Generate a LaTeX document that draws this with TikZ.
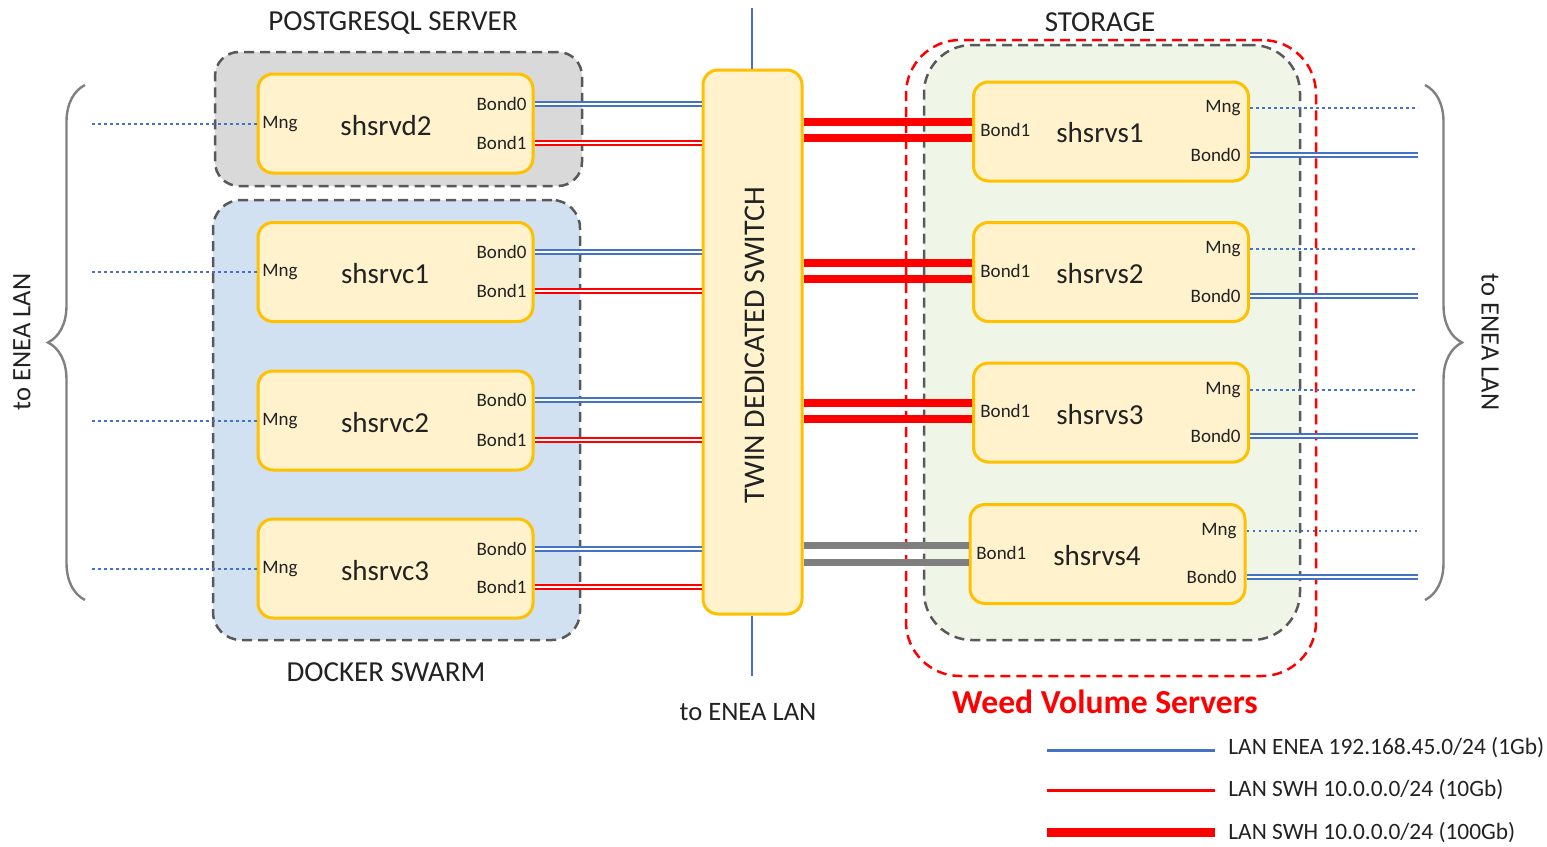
\documentclass[tikz,border=0pt]{standalone}
\usepackage{fontspec}
\setmainfont{Carlito}
\usetikzlibrary{decorations.pathreplacing,calc}
\definecolor{lanblue}{HTML}{4472C4}
\definecolor{swred}{HTML}{FF0000}
\definecolor{boxedge}{HTML}{FFC000}
\definecolor{boxfill}{HTML}{FFF2CC}
\definecolor{grpgray}{HTML}{595959}
\definecolor{pgfill}{HTML}{D9D9D9}
\definecolor{dkfill}{HTML}{D2E1F1}
\definecolor{stfill}{HTML}{EFF6E8}
\definecolor{txt}{HTML}{222222}
\definecolor{linkgray}{HTML}{7F7F7F}
\definecolor{bracegray}{HTML}{808080}
\begin{document}
\begin{tikzpicture}[x=0.5pt,y=-0.5pt,
  server/.style={draw=boxedge, fill=boxfill, line width=1.5pt, rounded corners=7.5pt,
    minimum width=137.5pt, minimum height=49.5pt, inner sep=0pt},
  grp/.style={draw=grpgray, line width=1.25pt, dash pattern=on 5pt off 3pt, inner sep=0pt},
  sname/.style={font=\fontsize{14.5}{17}\selectfont, text=txt, inner sep=0pt},
  port/.style={font=\fontsize{9.5}{11}\selectfont, text=txt, inner sep=0pt},
  ttl/.style={font=\fontsize{14.5}{17}\selectfont, text=txt, inner sep=0pt},
  lantxt/.style={font=\fontsize{13.3}{16}\selectfont, text=txt, inner sep=0pt},
  legtxt/.style={font=\fontsize{11.7}{14}\selectfont, text=txt, inner sep=0pt, anchor=west},
  bondA/.style={draw=lanblue, double=white, line width=0.95pt, double distance=1.1pt},
  bondB/.style={draw=swred, double=white, line width=0.95pt, double distance=1.1pt},
  fat/.style={draw=swred, line width=4pt},
  fatgray/.style={draw=linkgray, line width=3.5pt},
  mng/.style={draw=lanblue, line width=1.4pt, dash pattern=on 1.3pt off 1.7pt},
  lanline/.style={draw=lanblue, line width=1pt},
  bracestyle/.style={draw=bracegray, line width=1.2pt, decorate, decoration={brace, amplitude=18.5pt}}
]
\useasboundingbox (0,0) rectangle (1547,846);

% groups
\node[grp, fill=pgfill, rounded corners=12pt, minimum width=183.5pt, minimum height=67pt] (pg) at (398.5,119) {};
\node[grp, fill=dkfill, rounded corners=14pt, minimum width=183.5pt, minimum height=220pt] (dk) at (396.5,420) {};
\node[grp, draw=swred, rounded corners=27pt, minimum width=205pt, minimum height=318pt] (wv) at (1111,358) {};
\node[grp, fill=stfill, rounded corners=24pt, minimum width=188pt, minimum height=297.5pt] (st) at (1112,342.5) {};

% titles
\node[ttl] (pgt) at (393,23) {POSTGRESQL SERVER};
\node[ttl] (dkt) at (386,672) {DOCKER SWARM};
\node[ttl] (stt) at (1100,22) {STORAGE};
\node[font=\fontsize{16.8}{19}\selectfont\bfseries, text=swred, inner sep=0pt] (wvt) at (1105,702) {Weed Volume Servers};
\node[lantxt] (lanb) at (748,712) {to ENEA LAN};
\node[lantxt, rotate=90] (lanl) at (22,342) {to ENEA LAN};
\node[lantxt, rotate=-90] (lanr) at (1490,342) {to ENEA LAN};

% switch
\coordinate (lantop) at (752,8);
\coordinate (lanbot) at (752,676);
\node[server, minimum width=49.5pt, minimum height=272pt] (sw) at (752.5,342) {};
\node[font=\fontsize{15}{18}\selectfont, text=txt, inner sep=0pt, rotate=90] (swt) at (755,345) {TWIN DEDICATED SWITCH};
\draw[lanline] (lantop) -- (lantop |- sw.north);
\draw[lanline] (lanbot |- sw.south) -- (lanbot);

% left end / right end
\coordinate (lend) at (90,0);
\coordinate (rend) at (1418,0);

% left servers
\node[server] (d2) at (395.5,123.5) {};
\node[sname] (d2n) at (386,126) {shsrvd2};
\node[port, anchor=west] (d2m) at (262,124) {Mng};
\node[port, anchor=east] (d2b0) at (527,104) {Bond0};
\node[port, anchor=east] (d2b1) at (527,143) {Bond1};

\node[server] (c1) at (395.5,272) {};
\node[sname] (c1n) at (385,274) {shsrvc1};
\node[port, anchor=west] (c1m) at (262,272) {Mng};
\node[port, anchor=east] (c1b0) at (527,252) {Bond0};
\node[port, anchor=east] (c1b1) at (527,291) {Bond1};

\node[server] (c2) at (395.5,420.5) {};
\node[sname] (c2n) at (385,423) {shsrvc2};
\node[port, anchor=west] (c2m) at (262,421) {Mng};
\node[port, anchor=east] (c2b0) at (527,400) {Bond0};
\node[port, anchor=east] (c2b1) at (527,440) {Bond1};

\node[server] (c3) at (395.5,568.5) {};
\node[sname] (c3n) at (385,571) {shsrvc3};
\node[port, anchor=west] (c3m) at (262,569) {Mng};
\node[port, anchor=east] (c3b0) at (527,549) {Bond0};
\node[port, anchor=east] (c3b1) at (527,587) {Bond1};

\foreach \s in {d2,c1,c2,c3}{
  \draw[mng] (\s.west |- \s m) -- (lend |- \s m);
  \draw[bondA] (\s.east |- \s b0) -- (sw.west |- \s b0);
  \draw[bondB] (\s.east |- \s b1) -- (sw.west |- \s b1);
}

% storage servers
\node[server] (s1) at (1111,131.5) {};
\node[sname] (s1n) at (1100,133) {shsrvs1};
\node[port, anchor=east] (s1m) at (1241,108) {Mng};
\node[port, anchor=east] (s1b0) at (1241,155) {Bond0};
\node[port, anchor=west] (s1b1) at (980,130) {Bond1};

\node[server] (s2) at (1111,272) {};
\node[sname] (s2n) at (1100,274) {shsrvs2};
\node[port, anchor=east] (s2m) at (1241,249) {Mng};
\node[port, anchor=east] (s2b0) at (1241,296) {Bond0};
\node[port, anchor=west] (s2b1) at (980,271) {Bond1};

\node[server] (s3) at (1111,412.5) {};
\node[sname] (s3n) at (1100,415) {shsrvs3};
\node[port, anchor=east] (s3m) at (1241,390) {Mng};
\node[port, anchor=east] (s3b0) at (1241,436) {Bond0};
\node[port, anchor=west] (s3b1) at (980,411) {Bond1};

\node[server] (s4) at (1107.5,554) {};
\node[sname] (s4n) at (1097,556) {shsrvs4};
\node[port, anchor=east] (s4m) at (1237,531) {Mng};
\node[port, anchor=east] (s4b0) at (1237,577) {Bond0};
\node[port, anchor=west] (s4b1) at (976,553) {Bond1};

\foreach \s in {s1,s2,s3,s4}{
  \draw[mng] (\s.east |- \s m) -- (rend |- \s m);
  \draw[bondA] (\s.east |- \s b0) -- (rend |- \s b0);
}
\foreach \s in {s1,s2,s3}{
  \draw[fat] ($(sw.east |- \s b1)+(0,-8)$) -- ($(\s.west |- \s b1)+(0,-8)$);
  \draw[fat] ($(sw.east |- \s b1)+(0,8)$) -- ($(\s.west |- \s b1)+(0,8)$);
}
\draw[fatgray] ($(sw.east |- s4b1)+(0,-8)$) -- ($(s4.west |- s4b1)+(0,-8)$);
\draw[fatgray] ($(sw.east |- s4b1)+(0,9)$) -- ($(s4.west |- s4b1)+(0,9)$);

% braces
\coordinate (lbt) at (85,85);
\coordinate (lbb) at (85,600);
\coordinate (rbt) at (1425,85);
\coordinate (rbb) at (1425,600);
\draw[bracestyle] (lbb) -- (lbt);
\draw[bracestyle] (rbt) -- (rbb);

% legend
\coordinate (lg1a) at (1047,750); \coordinate (lg1b) at (1215,750);
\coordinate (lg2a) at (1047,790); \coordinate (lg2b) at (1215,790);
\coordinate (lg3a) at (1047,832); \coordinate (lg3b) at (1215,832);
\draw[draw=lanblue, line width=1.5pt] (lg1a) -- (lg1b);
\draw[draw=swred, line width=1.5pt] (lg2a) -- (lg2b);
\draw[draw=swred, line width=4.5pt] (lg3a) -- (lg3b);
\node[legtxt] (lg1) at (1228,748) {LAN ENEA 192.168.45.0/24 (1Gb)};
\node[legtxt] (lg2) at (1228,790) {LAN SWH 10.0.0.0/24 (10Gb)};
\node[legtxt] (lg3) at (1228,833) {LAN SWH 10.0.0.0/24 (100Gb)};
\end{tikzpicture}
\end{document}
